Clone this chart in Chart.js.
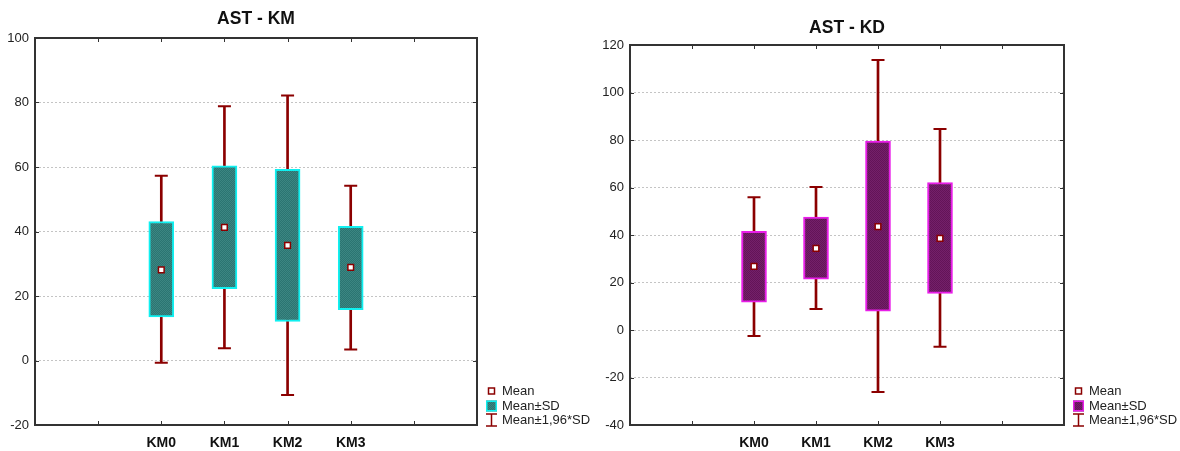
<!DOCTYPE html>
<html>
<head>
<meta charset="utf-8">
<script src="https://cdn.jsdelivr.net/npm/chart.js@4.4.1/dist/chart.umd.min.js"></script>
<style>
  html, body { margin: 0; padding: 0; background: #fff; }
  body { width: 1180px; height: 451px; position: relative; overflow: hidden; }
  canvas { position: absolute; top: 0; }
  #kmChart { left: 0; }
  #kdChart { left: 593px; }
</style>
</head>
<body>
<canvas id="kmChart" width="593" height="451"></canvas>
<canvas id="kdChart" width="587" height="451"></canvas>
<script>
const categories = ['KM0', 'KM1', 'KM2', 'KM3'];
const kmYTicks = [-20, 0, 20, 40, 60, 80, 100];
const kdYTicks = [-40, -20, 0, 20, 40, 60, 80, 100, 120];

// AST - KM
const kmMean   = [28.1, 41.3, 35.7, 28.9];
const kmSdLow  = [13.5, 22.3, 12.1, 15.8];
const kmSdHigh = [43.1, 60.4, 59.3, 41.6];
const kmCiLow  = [-0.7, 3.8, -10.7, 3.4];
const kmCiHigh = [57.3, 78.8, 82.2, 54.2];

// AST - KD
const kdMean   = [26.8, 34.4, 43.5, 38.6];
const kdSdLow  = [11.7, 21.4, 7.9, 15.4];
const kdSdHigh = [41.5, 47.5, 79.5, 62.1];
const kdCiLow  = [-2.5, 8.8, -26.1, -7.0];
const kdCiHigh = [55.9, 60.2, 113.7, 84.6];

const FONT = "'Liberation Sans', Arial, sans-serif";
const WHISKER = '#8b0000';

// two empty slots on each side of the groups
const slots = ['', ''].concat(categories, ['', '']);
function pad(values) { return [null, null].concat(values, [null, null]); }
function pairs(lo, hi) { return pad(lo.map((v, i) => [v, hi[i]])); }

function hatch(ctx, a, b) {
  const c = document.createElement('canvas');
  c.width = 2; c.height = 2;
  const g = c.getContext('2d');
  g.fillStyle = a; g.fillRect(0, 0, 2, 2);
  g.fillStyle = b; g.fillRect(0, 0, 1, 1); g.fillRect(1, 1, 1, 1);
  return ctx.createPattern(c, 'repeat');
}

// frame with inward ticks, title and legend
const panelPlugin = {
  id: 'panel',
  afterDatasetsDraw(chart, args, o) {
    const { ctx, chartArea: a, scales: { x, y } } = chart;
    ctx.save();
    ctx.strokeStyle = '#333';
    ctx.lineWidth = 1;
    ctx.beginPath();
    x.ticks.forEach((t, i) => {
      const px = Math.round(x.getPixelForTick(i)) + 0.5;
      ctx.moveTo(px, a.top); ctx.lineTo(px, a.top + 4);
      ctx.moveTo(px, a.bottom); ctx.lineTo(px, a.bottom - 4);
    });
    y.ticks.forEach((t, i) => {
      const py = Math.round(y.getPixelForTick(i)) + 0.5;
      ctx.moveTo(a.left, py); ctx.lineTo(a.left + 4, py);
      ctx.moveTo(a.right, py); ctx.lineTo(a.right - 4, py);
    });
    ctx.stroke();
    ctx.lineWidth = 2;
    ctx.strokeRect(a.left, a.top, a.width, a.height);

    // title
    ctx.fillStyle = '#111';
    ctx.font = 'bold 17.5px ' + FONT;
    ctx.textAlign = 'center';
    ctx.textBaseline = 'middle';
    ctx.fillText(o.title, (a.left + a.right) / 2, o.titleY);

    // legend
    const x0 = a.right + 9, tx = a.right + 25;
    const rows = [a.bottom - 34, a.bottom - 19, a.bottom - 5];
    ctx.fillStyle = '#fff';
    ctx.strokeStyle = WHISKER;
    ctx.lineWidth = 1.5;
    ctx.fillRect(x0 + 2.5, rows[0] - 3, 6, 6);
    ctx.strokeRect(x0 + 2.5, rows[0] - 3, 6, 6);

    ctx.fillStyle = o.fill;
    ctx.fillRect(x0, rows[1] - 5.5, 11, 11);
    ctx.strokeStyle = o.edge;
    ctx.strokeRect(x0 + 0.75, rows[1] - 4.75, 9.5, 9.5);

    ctx.strokeStyle = WHISKER;
    ctx.beginPath();
    ctx.moveTo(x0 + 5.5, rows[2] - 6); ctx.lineTo(x0 + 5.5, rows[2] + 6);
    ctx.moveTo(x0, rows[2] - 6); ctx.lineTo(x0 + 11, rows[2] - 6);
    ctx.moveTo(x0, rows[2] + 6); ctx.lineTo(x0 + 11, rows[2] + 6);
    ctx.stroke();

    ctx.fillStyle = '#222';
    ctx.font = '13px ' + FONT;
    ctx.textAlign = 'left';
    ['Mean', 'Mean\u00b1SD', 'Mean\u00b11,96*SD'].forEach((s, i) => ctx.fillText(s, tx, rows[i]));
    ctx.restore();
  }
};

function makeChart(id, cfg) {
  const canvas = document.getElementById(id);
  const ctx = canvas.getContext('2d');
  const fill = hatch(ctx, cfg.fillA, cfg.fillB);
  return new Chart(ctx, {
    type: 'bar',
    plugins: [panelPlugin],
    data: {
      labels: slots,
      datasets: [
        {
          type: 'bar', data: pairs(cfg.ciLow, cfg.ciHigh), order: 4,
          backgroundColor: WHISKER, barThickness: 2, grouped: false
        },
        {
          type: 'line', data: pad(cfg.ciHigh), order: 3, showLine: false,
          pointStyle: 'line', pointRadius: 6.5, pointBorderWidth: 2, borderColor: WHISKER
        },
        {
          type: 'line', data: pad(cfg.ciLow), order: 3, showLine: false,
          pointStyle: 'line', pointRadius: 6.5, pointBorderWidth: 2, borderColor: WHISKER
        },
        {
          type: 'bar', data: pairs(cfg.sdLow, cfg.sdHigh), order: 2,
          backgroundColor: fill, borderColor: cfg.edge, borderWidth: 2,
          borderSkipped: false, barThickness: 25, grouped: false
        },
        {
          type: 'line', data: pad(cfg.mean), order: 1, showLine: false,
          pointStyle: 'rect', pointRadius: 4, pointBorderWidth: 1.5,
          pointBackgroundColor: '#fff', pointBorderColor: WHISKER
        }
      ]
    },
    options: {
      responsive: false,
      animation: false,
      events: [],
      layout: { padding: { top: cfg.top, right: 116, left: 0, bottom: 0 } },
      plugins: {
        legend: { display: false },
        tooltip: { enabled: false },
        panel: { title: cfg.title, titleY: cfg.titleY, fill: fill, edge: cfg.edge }
      },
      scales: {
        x: {
          type: 'category', offset: false,
          grid: { display: false, drawTicks: false },
          border: { display: false },
          ticks: {
            autoSkip: false, maxRotation: 0, padding: 10, color: '#111',
            font: { family: FONT, size: 14, weight: 'bold' }
          },
          afterFit(s) { s.height = 26; }
        },
        y: {
          min: cfg.ticks[0], max: cfg.ticks[cfg.ticks.length - 1],
          grid: { color: '#c4c4c4', lineWidth: 1, drawTicks: false },
          border: { display: false, dash: [2, 2] },
          ticks: {
            stepSize: 20, padding: 6, color: '#222',
            font: { family: FONT, size: 13 }
          },
          afterFit(s) { s.width = cfg.axisWidth; }
        }
      }
    }
  });
}

makeChart('kmChart', {
  title: 'AST - KM', titleY: 19, top: 38, axisWidth: 35, ticks: kmYTicks,
  mean: kmMean, sdLow: kmSdLow, sdHigh: kmSdHigh, ciLow: kmCiLow, ciHigh: kmCiHigh,
  fillA: '#2b7572', fillB: '#3c8682', edge: '#10f0f0'
});

makeChart('kdChart', {
  title: 'AST - KD', titleY: 28, top: 45, axisWidth: 37, ticks: kdYTicks,
  mean: kdMean, sdLow: kdSdLow, sdHigh: kdSdHigh, ciLow: kdCiLow, ciHigh: kdCiHigh,
  fillA: '#631458', fillB: '#74206a', edge: '#e81ee8'
});
</script>
</body>
</html>
